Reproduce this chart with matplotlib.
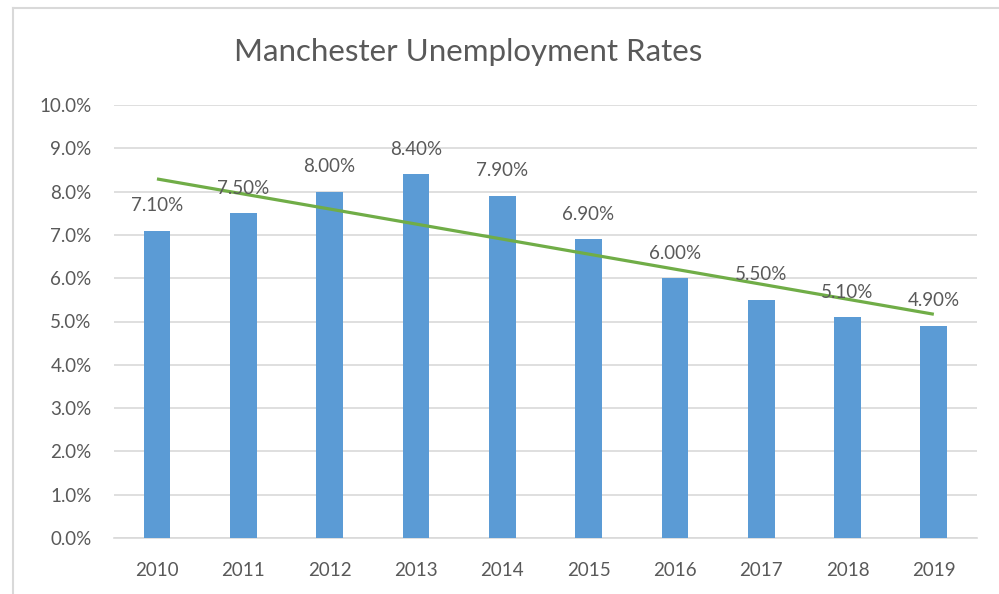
import matplotlib
matplotlib.use("Agg")
import matplotlib.pyplot as plt
from matplotlib.lines import Line2D
import numpy as np

years = ["2010", "2011", "2012", "2013", "2014", "2015", "2016", "2017", "2018", "2019"]
rates = [7.1, 7.5, 8.0, 8.4, 7.9, 6.9, 6.0, 5.5, 5.1, 4.9]
title = "Manchester Unemployment Rates"

plt.rcParams['font.family'] = ['Lato', 'DejaVu Sans']
TXT = '#595959'
GRID = '#D9D9D9'
BAR = '#5B9BD5'
TREND = '#70AD47'

W, H = 999, 594
fig = plt.figure(figsize=(W/100, H/100), dpi=100)
fig.patch.set_facecolor('white')

# chart frame (left and top edges visible)
fig.lines.append(Line2D([12.5/W, 12.5/W], [0, 1 - 8/H], transform=fig.transFigure,
                        color=GRID, lw=1.5))
fig.lines.append(Line2D([12.5/W, 1], [1 - 8/H, 1 - 8/H], transform=fig.transFigure,
                        color=GRID, lw=1.5))

ax = fig.add_axes([113.8/W, 1 - 538/H, (977 - 113.8)/W, (538 - 105)/H])
x = np.arange(len(years))
vals = np.array(rates) / 100.0
ax.bar(x, vals, width=0.31, color=BAR, zorder=3)

# linear trendline
coef = np.polyfit(x, vals, 1)
ax.plot([x[0], x[-1]], np.polyval(coef, [x[0], x[-1]]), color=TREND, lw=2.3, zorder=4,
        solid_capstyle='butt')

for xi, v, r in zip(x, vals, rates):
    ax.annotate(f"{r:.2f}%", (xi, v), xytext=(0, 18), textcoords='offset points',
                ha='center', va='center', fontsize=13.5, color=TXT, zorder=5)

ax.set_xlim(-0.5, len(years) - 0.5)
ax.set_ylim(0, 0.10)
ax.set_yticks(np.arange(0, 0.1001, 0.01))
ax.set_yticklabels([f"{t*100:.1f}%" for t in np.arange(0, 0.1001, 0.01)])
ax.set_xticks(x)
ax.set_xticklabels(years)
ax.tick_params(axis='both', length=0, labelsize=13.5, labelcolor=TXT)
ax.tick_params(axis='y', pad=16)
ax.tick_params(axis='x', pad=17)
ax.grid(axis='y', color=GRID, lw=1.2, zorder=0)
ax.set_axisbelow(True)
for s in ['top', 'right', 'left']:
    ax.spines[s].set_visible(False)
ax.spines['bottom'].set_color(GRID)
ax.spines['bottom'].set_linewidth(1.2)

fig.text(468/W, 1 - 52/H, title, ha='center', va='center', fontsize=22.5, color=TXT,
         fontweight='normal')

fig.savefig('out.png', dpi=100)
